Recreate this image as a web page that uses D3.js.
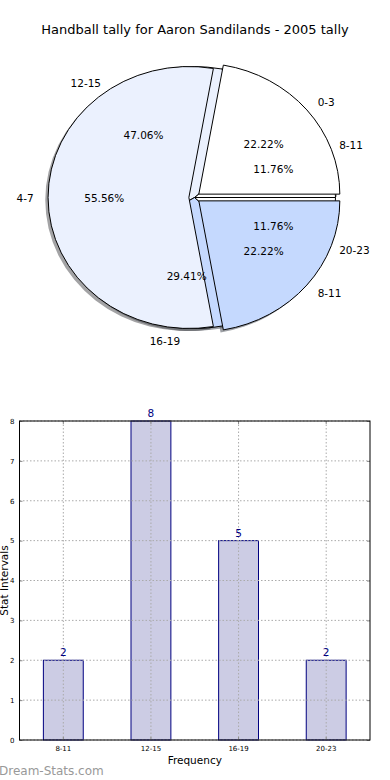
<!DOCTYPE html>
<html>
<head>
<meta charset="utf-8">
<script src="https://cdn.jsdelivr.net/npm/d3@7"></script>
<style>
  body { margin: 0; background: #fff; }
  svg { display: block; font-family: "DejaVu Sans", sans-serif; }
</style>
</head>
<body>
<script>
// pie drawn on top (exploded), 3 groups
var topCats = ["0-3", "4-7", "8-11"];
var topVals = [2, 5, 2];
// pie underneath, 4 groups
var baseCats = ["8-11", "12-15", "16-19", "20-23"];
var baseVals = [2, 8, 5, 2];
var pieColors = ["#ffffff", "#ebf1fe", "#c5d9fe"];

// bar chart
var barCats = ["8-11", "12-15", "16-19", "20-23"];
var barVals = [2, 8, 5, 2];
var yTicks = [0, 1, 2, 3, 4, 5, 6, 7, 8];

var width = 390, height = 780;

var svg = d3.select("body").append("svg")
    .attr("width", width)
    .attr("height", height);

svg.append("rect").attr("width", width).attr("height", height).attr("fill", "#fff");

// title
svg.append("text")
    .attr("x", 195).attr("y", 34)
    .attr("text-anchor", "middle")
    .attr("font-size", 13)
    .text("Handball tally for Aaron Sandilands - 2005 tally");

// ---- pie ----
var cx = 194.5, cy = 197.5, rx = 141, ry = 131;

// matplotlib style: start at 3 o'clock, counter clockwise
var pie = d3.pie().sort(null)
    .startAngle(Math.PI / 2)
    .endAngle(Math.PI / 2 - 2 * Math.PI);
var unitArc = d3.arc().innerRadius(0).outerRadius(1);

function pieLayer(cats, vals, explode) {
    return pie(vals).map(function(d, i) {
        var mid = (d.startAngle + d.endAngle) / 2;
        var ox = explode * Math.sin(mid), oy = -explode * Math.cos(mid);
        return {
            d: d, cat: cats[i], mid: mid,
            px: cx + ox * rx, py: cy + oy * ry,
            color: pieColors[i % pieColors.length],
            pct: (100 * d.value / d3.sum(vals)).toFixed(2) + "%"
        };
    });
}

var baseWedges = pieLayer(baseCats, baseVals, 0);
var topWedges = pieLayer(topCats, topVals, 0.04);

var pieG = svg.append("g");

function shadowColor(c) {
    var k = d3.rgb(c);
    return d3.rgb(k.r * 0.3, k.g * 0.3, k.b * 0.3).toString();
}

// shadows first
pieG.selectAll("path.shadow")
    .data(baseWedges.concat(topWedges))
    .enter().append("path")
    .attr("class", "shadow")
    .attr("d", function(w) { return unitArc(w.d); })
    .attr("transform", function(w) {
        return "translate(" + (w.px - 2.8) + "," + (w.py + 2.6) + ") scale(" + rx + "," + ry + ")";
    })
    .attr("fill", function(w) { return shadowColor(w.color); })
    .attr("fill-opacity", 0.5)
    .attr("stroke", "none");

function drawWedges(list, cls) {
    pieG.selectAll("path." + cls)
        .data(list)
        .enter().append("path")
        .attr("class", cls)
        .attr("d", function(w) { return unitArc(w.d); })
        .attr("transform", function(w) {
            return "translate(" + w.px + "," + w.py + ") scale(" + rx + "," + ry + ")";
        })
        .attr("fill", function(w) { return w.color; })
        .attr("stroke", "#000")
        .attr("stroke-width", 1)
        .attr("stroke-linejoin", "round")
        .attr("vector-effect", "non-scaling-stroke");
}
drawWedges(baseWedges, "base");
drawWedges(topWedges, "top");

function pieText(list) {
    list.forEach(function(w) {
        var s = Math.sin(w.mid), c = Math.cos(w.mid);
        pieG.append("text")
            .attr("x", w.px + 1.1 * rx * s)
            .attr("y", w.py - 1.1 * ry * c)
            .attr("text-anchor", s > 0 ? "start" : "end")
            .attr("dominant-baseline", "central")
            .attr("font-size", 10.5)
            .text(w.cat);
        pieG.append("text")
            .attr("x", w.px + 0.6 * rx * s)
            .attr("y", w.py - 0.6 * ry * c)
            .attr("text-anchor", "middle")
            .attr("dominant-baseline", "central")
            .attr("font-size", 10.5)
            .text(w.pct);
    });
}
pieText(topWedges);
pieText(baseWedges);

// ---- bar chart ----
var plotLeft = 19.5, plotRight = 370, plotTop = 421, plotBottom = 740;

var x = d3.scaleBand()
    .domain(barCats)
    .range([plotLeft, plotRight])
    .paddingInner(0.545)
    .paddingOuter(0.2725);

var y = d3.scaleLinear()
    .domain([0, 8])
    .range([plotBottom, plotTop]);

var barG = svg.append("g");

barG.selectAll("rect.bar")
    .data(barVals)
    .enter().append("rect")
    .attr("class", "bar")
    .attr("x", function(d, i) { return x(barCats[i]); })
    .attr("y", function(d) { return y(d); })
    .attr("width", x.bandwidth())
    .attr("height", function(d) { return y(0) - y(d); })
    .attr("fill", "#ccccE4")
    .attr("stroke", "#000080")
    .attr("stroke-width", 1);

// grid
barG.selectAll("line.hgrid")
    .data(yTicks)
    .enter().append("line")
    .attr("x1", plotLeft).attr("x2", plotRight)
    .attr("y1", function(d) { return y(d); })
    .attr("y2", function(d) { return y(d); })
    .attr("stroke", "#aaa")
    .attr("stroke-dasharray", "1.5,2");

barG.selectAll("line.vgrid")
    .data(barCats)
    .enter().append("line")
    .attr("x1", function(d) { return x(d) + x.bandwidth() / 2; })
    .attr("x2", function(d) { return x(d) + x.bandwidth() / 2; })
    .attr("y1", plotTop).attr("y2", plotBottom)
    .attr("stroke", "#aaa")
    .attr("stroke-dasharray", "1.5,2");

// axes
var yAxis = d3.axisLeft(y).tickValues(yTicks).tickSize(-3).tickPadding(5);
var yAxisR = d3.axisRight(y).tickValues(yTicks).tickSize(-3).tickFormat("");
var xAxis = d3.axisBottom(x).tickSize(-3).tickPadding(6);
var xAxisT = d3.axisTop(x).tickSize(-3).tickFormat("");

function styleAxis(g) {
    g.select(".domain").remove();
    g.selectAll(".tick line").attr("stroke", "#888");
    g.selectAll(".tick text").attr("font-size", 7).attr("font-family", "DejaVu Sans").attr("fill", "#000");
}

svg.append("g").attr("transform", "translate(" + plotLeft + ",0)").call(yAxis).call(styleAxis);
svg.append("g").attr("transform", "translate(" + plotRight + ",0)").call(yAxisR).call(styleAxis);
svg.append("g").attr("transform", "translate(0," + plotBottom + ")").call(xAxis).call(styleAxis);
svg.append("g").attr("transform", "translate(0," + plotTop + ")").call(xAxisT).call(styleAxis);

// frame
svg.append("rect")
    .attr("x", plotLeft).attr("y", plotTop)
    .attr("width", plotRight - plotLeft).attr("height", plotBottom - plotTop)
    .attr("fill", "none")
    .attr("stroke", "#000")
    .attr("stroke-width", 1);

// value labels
barG.selectAll("text.val")
    .data(barVals)
    .enter().append("text")
    .attr("x", function(d, i) { return x(barCats[i]) + x.bandwidth() / 2; })
    .attr("y", function(d) { return y(d) - 4; })
    .attr("text-anchor", "middle")
    .attr("font-size", 10.5)
    .attr("fill", "#000080")
    .text(function(d) { return d; });

// axis titles
svg.append("text")
    .attr("x", (plotLeft + plotRight) / 2).attr("y", 764)
    .attr("text-anchor", "middle")
    .attr("font-size", 10.5)
    .text("Frequency");

svg.append("text")
    .attr("transform", "translate(8," + ((plotTop + plotBottom) / 2) + ") rotate(-90)")
    .attr("text-anchor", "middle")
    .attr("font-size", 10.5)
    .text("Stat Intervals");

// watermark
svg.append("text")
    .attr("x", -1).attr("y", 775)
    .attr("font-size", 12)
    .attr("fill", "#999")
    .text("Dream-Stats.com");
</script>
</body>
</html>
